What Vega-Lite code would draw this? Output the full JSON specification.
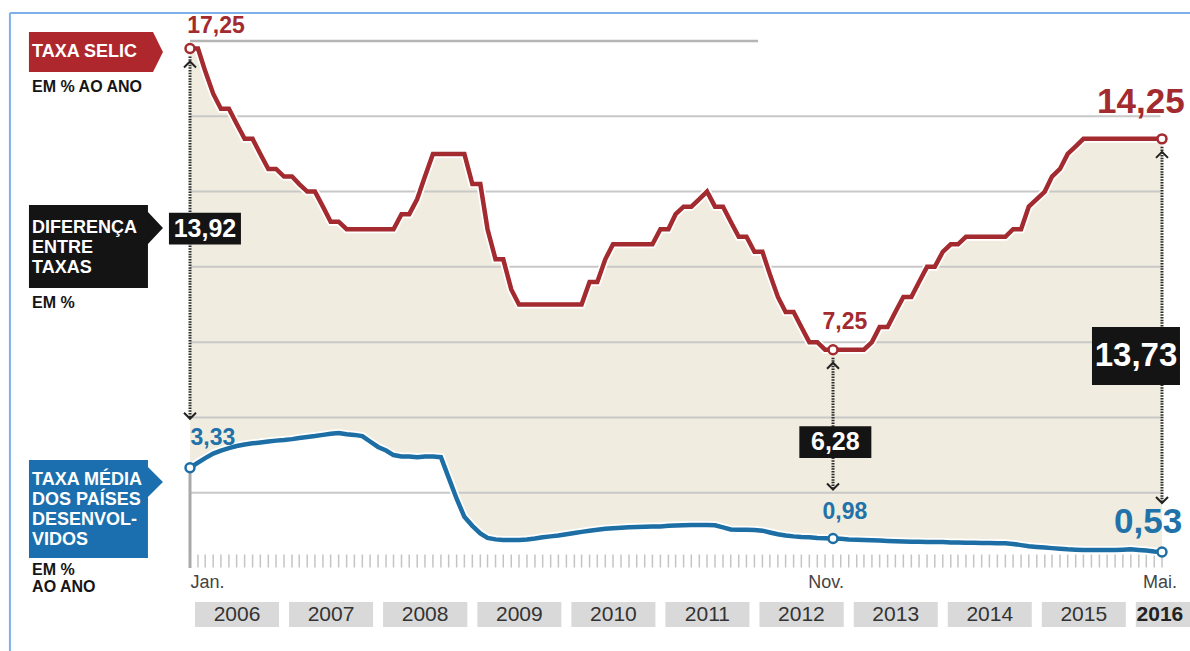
{
"$schema":"https://vega.github.io/schema/vega-lite/v6.json",
"width":972,"height":527,"autosize":"none",
"padding":{"left":190,"top":41,"right":28,"bottom":83},
"background":"white",
"config":{"view":{"stroke":null},"font":"Liberation Sans"},
"datasets":{
"series":[
{"date":"2006-01-01","selic":17.25,"dev":3.33},{"date":"2006-02-01","selic":17.25,"dev":3.5},{"date":"2006-03-01","selic":16.5,"dev":3.65},{"date":"2006-04-01","selic":15.75,"dev":3.8},{"date":"2006-05-01","selic":15.25,"dev":3.9},{"date":"2006-06-01","selic":15.25,"dev":3.98},{"date":"2006-07-01","selic":14.75,"dev":4.05},{"date":"2006-08-01","selic":14.25,"dev":4.1},{"date":"2006-09-01","selic":14.25,"dev":4.14},{"date":"2006-10-01","selic":13.75,"dev":4.17},{"date":"2006-11-01","selic":13.25,"dev":4.2},{"date":"2006-12-01","selic":13.25,"dev":4.23},
{"date":"2007-01-01","selic":13.0,"dev":4.25},{"date":"2007-02-01","selic":13.0,"dev":4.28},{"date":"2007-03-01","selic":12.75,"dev":4.32},{"date":"2007-04-01","selic":12.5,"dev":4.35},{"date":"2007-05-01","selic":12.5,"dev":4.38},{"date":"2007-06-01","selic":12.0,"dev":4.42},{"date":"2007-07-01","selic":11.5,"dev":4.46},{"date":"2007-08-01","selic":11.5,"dev":4.48},{"date":"2007-09-01","selic":11.25,"dev":4.44},{"date":"2007-10-01","selic":11.25,"dev":4.42},{"date":"2007-11-01","selic":11.25,"dev":4.38},{"date":"2007-12-01","selic":11.25,"dev":4.2},
{"date":"2008-01-01","selic":11.25,"dev":4.02},{"date":"2008-02-01","selic":11.25,"dev":3.9},{"date":"2008-03-01","selic":11.25,"dev":3.75},{"date":"2008-04-01","selic":11.75,"dev":3.7},{"date":"2008-05-01","selic":11.75,"dev":3.7},{"date":"2008-06-01","selic":12.25,"dev":3.68},{"date":"2008-07-01","selic":13.0,"dev":3.7},{"date":"2008-08-01","selic":13.75,"dev":3.7},{"date":"2008-09-01","selic":13.75,"dev":3.68},{"date":"2008-10-01","selic":13.75,"dev":3.0},{"date":"2008-11-01","selic":13.75,"dev":2.3},{"date":"2008-12-01","selic":13.75,"dev":1.7},
{"date":"2009-01-01","selic":12.75,"dev":1.4},{"date":"2009-02-01","selic":12.75,"dev":1.15},{"date":"2009-03-01","selic":11.25,"dev":1.0},{"date":"2009-04-01","selic":10.25,"dev":0.95},{"date":"2009-05-01","selic":10.25,"dev":0.93},{"date":"2009-06-01","selic":9.25,"dev":0.93},{"date":"2009-07-01","selic":8.75,"dev":0.93},{"date":"2009-08-01","selic":8.75,"dev":0.95},{"date":"2009-09-01","selic":8.75,"dev":0.98},{"date":"2009-10-01","selic":8.75,"dev":1.02},{"date":"2009-11-01","selic":8.75,"dev":1.05},{"date":"2009-12-01","selic":8.75,"dev":1.08},
{"date":"2010-01-01","selic":8.75,"dev":1.12},{"date":"2010-02-01","selic":8.75,"dev":1.16},{"date":"2010-03-01","selic":8.75,"dev":1.2},{"date":"2010-04-01","selic":9.5,"dev":1.24},{"date":"2010-05-01","selic":9.5,"dev":1.27},{"date":"2010-06-01","selic":10.25,"dev":1.3},{"date":"2010-07-01","selic":10.75,"dev":1.32},{"date":"2010-08-01","selic":10.75,"dev":1.34},{"date":"2010-09-01","selic":10.75,"dev":1.35},{"date":"2010-10-01","selic":10.75,"dev":1.36},{"date":"2010-11-01","selic":10.75,"dev":1.37},{"date":"2010-12-01","selic":10.75,"dev":1.38},
{"date":"2011-01-01","selic":11.25,"dev":1.38},{"date":"2011-02-01","selic":11.25,"dev":1.4},{"date":"2011-03-01","selic":11.75,"dev":1.41},{"date":"2011-04-01","selic":12.0,"dev":1.42},{"date":"2011-05-01","selic":12.0,"dev":1.43},{"date":"2011-06-01","selic":12.25,"dev":1.43},{"date":"2011-07-01","selic":12.5,"dev":1.43},{"date":"2011-08-01","selic":12.0,"dev":1.42},{"date":"2011-09-01","selic":12.0,"dev":1.35},{"date":"2011-10-01","selic":11.5,"dev":1.28},{"date":"2011-11-01","selic":11.0,"dev":1.27},{"date":"2011-12-01","selic":11.0,"dev":1.27},
{"date":"2012-01-01","selic":10.5,"dev":1.26},{"date":"2012-02-01","selic":10.5,"dev":1.24},{"date":"2012-03-01","selic":9.75,"dev":1.18},{"date":"2012-04-01","selic":9.0,"dev":1.12},{"date":"2012-05-01","selic":8.5,"dev":1.08},{"date":"2012-06-01","selic":8.5,"dev":1.05},{"date":"2012-07-01","selic":8.0,"dev":1.03},{"date":"2012-08-01","selic":7.5,"dev":1.02},{"date":"2012-09-01","selic":7.5,"dev":1.0},{"date":"2012-10-01","selic":7.25,"dev":0.99},{"date":"2012-11-01","selic":7.25,"dev":0.98},{"date":"2012-12-01","selic":7.25,"dev":0.97},
{"date":"2013-01-01","selic":7.25,"dev":0.95},{"date":"2013-02-01","selic":7.25,"dev":0.94},{"date":"2013-03-01","selic":7.25,"dev":0.93},{"date":"2013-04-01","selic":7.5,"dev":0.92},{"date":"2013-05-01","selic":8.0,"dev":0.91},{"date":"2013-06-01","selic":8.0,"dev":0.9},{"date":"2013-07-01","selic":8.5,"dev":0.89},{"date":"2013-08-01","selic":9.0,"dev":0.88},{"date":"2013-09-01","selic":9.0,"dev":0.87},{"date":"2013-10-01","selic":9.5,"dev":0.87},{"date":"2013-11-01","selic":10.0,"dev":0.86},{"date":"2013-12-01","selic":10.0,"dev":0.86},
{"date":"2014-01-01","selic":10.5,"dev":0.86},{"date":"2014-02-01","selic":10.75,"dev":0.85},{"date":"2014-03-01","selic":10.75,"dev":0.85},{"date":"2014-04-01","selic":11.0,"dev":0.84},{"date":"2014-05-01","selic":11.0,"dev":0.84},{"date":"2014-06-01","selic":11.0,"dev":0.83},{"date":"2014-07-01","selic":11.0,"dev":0.83},{"date":"2014-08-01","selic":11.0,"dev":0.82},{"date":"2014-09-01","selic":11.0,"dev":0.82},{"date":"2014-10-01","selic":11.25,"dev":0.8},{"date":"2014-11-01","selic":11.25,"dev":0.76},{"date":"2014-12-01","selic":12.0,"dev":0.72},
{"date":"2015-01-01","selic":12.25,"dev":0.7},{"date":"2015-02-01","selic":12.5,"dev":0.68},{"date":"2015-03-01","selic":13.0,"dev":0.66},{"date":"2015-04-01","selic":13.25,"dev":0.64},{"date":"2015-05-01","selic":13.75,"dev":0.62},{"date":"2015-06-01","selic":14.0,"dev":0.61},{"date":"2015-07-01","selic":14.25,"dev":0.6},{"date":"2015-08-01","selic":14.25,"dev":0.6},{"date":"2015-09-01","selic":14.25,"dev":0.6},{"date":"2015-10-01","selic":14.25,"dev":0.6},{"date":"2015-11-01","selic":14.25,"dev":0.6},{"date":"2015-12-01","selic":14.25,"dev":0.61},
{"date":"2016-01-01","selic":14.25,"dev":0.62},{"date":"2016-02-01","selic":14.25,"dev":0.6},{"date":"2016-03-01","selic":14.25,"dev":0.58},{"date":"2016-04-01","selic":14.25,"dev":0.55},{"date":"2016-05-01","selic":14.25,"dev":0.53}
],
"points":[{"date":"2006-01-01","selic":17.25,"dev":3.33},{"date":"2012-11-01","selic":7.25,"dev":0.98},{"date":"2016-05-01","selic":14.25,"dev":0.53}],
"years":[{"year":"2006","date":"2006-01-01","end":"2007-01-01"},{"year":"2007","date":"2007-01-01","end":"2008-01-01"},{"year":"2008","date":"2008-01-01","end":"2009-01-01"},{"year":"2009","date":"2009-01-01","end":"2010-01-01"},{"year":"2010","date":"2010-01-01","end":"2011-01-01"},{"year":"2011","date":"2011-01-01","end":"2012-01-01"},{"year":"2012","date":"2012-01-01","end":"2013-01-01"},{"year":"2013","date":"2013-01-01","end":"2014-01-01"},{"year":"2014","date":"2014-01-01","end":"2015-01-01"},{"year":"2015","date":"2015-01-01","end":"2016-01-01"},{"year":"2016","date":"2016-01-01","end":"2017-01-01"}],
"grid":[{"g":2.5},{"g":5},{"g":7.5},{"g":10},{"g":12.5},{"g":15}],
"labels":[
{"kind":"boxRed","date":"2005-01-01","y":17.135,"text":""},
{"kind":"boxBlack","date":"2005-01-01","y":10.69,"text":""},
{"kind":"boxBlue","date":"2005-01-01","y":1.96,"text":""},
{"kind":"leftWhite","date":"2004-04-28","y":17.135,"text":"TAXA SELIC"},
{"kind":"leftWhite","date":"2004-04-28","y":11.29,"text":"DIFERENÇA|ENTRE|TAXAS"},
{"kind":"leftWhite","date":"2004-04-28","y":2.92,"text":"TAXA MÉDIA|DOS PAÍSES|DESENVOL-|VIDOS"},
{"kind":"leftBlack","date":"2004-04-28","y":15.97,"text":"EM % AO ANO"},
{"kind":"leftBlack","date":"2004-04-28","y":8.8,"text":"EM %"},
{"kind":"leftBlack","date":"2004-04-28","y":-0.07,"text":"EM %|AO ANO"},
{"kind":"valBox","date":"2006-02-28","y":11.27,"text":"13,92"},
{"kind":"valBox","date":"2012-11-10","y":4.18,"text":"6,28"},
{"kind":"valBoxBig","date":"2016-01-21","y":7.04,"text":"13,73"},
{"kind":"redSmall","date":"2006-04-12","y":18.0,"text":"17,25"},
{"kind":"redSmall","date":"2012-12-17","y":8.17,"text":"7,25"},
{"kind":"redBig","date":"2016-02-09","y":15.47,"text":"14,25"},
{"kind":"blueSmall","date":"2006-03-31","y":4.32,"text":"3,33"},
{"kind":"blueSmall","date":"2012-12-17","y":1.86,"text":"0,98"},
{"kind":"blueBig","date":"2016-03-08","y":1.53,"text":"0,53"},
{"kind":"axisLab","date":"2006-03-10","y":-0.5,"text":"Jan."},
{"kind":"axisLab","date":"2012-10-05","y":-0.5,"text":"Nov."},
{"kind":"axisLab","date":"2016-04-23","y":-0.5,"text":"Mai."},
{"kind":"year2016","date":"2016-04-23","y":-1.56,"text":"2016"}
]
},
"layer":[
{"data":{"values":[{}]},"mark":{"type":"rule","color":"#7fb0ea","strokeWidth":2},
 "encoding":{"x":{"datum":{"year":2004,"month":2,"date":2,"utc":true},"type":"temporal","scale":{"domain":[{"year":2006,"month":1,"date":1,"utc":true},{"year":2016,"month":5,"date":1,"utc":true}]},"axis":null},
 "x2":{"datum":{"year":2017,"month":6,"date":1,"utc":true}},
 "y":{"datum":18.43,"type":"quantitative","scale":{"domain":[0,17.5]},"axis":null}}},
{"data":{"values":[{}]},"mark":{"type":"rule","color":"#7fb0ea","strokeWidth":2},
 "encoding":{"x":{"datum":{"year":2004,"month":2,"date":2,"utc":true},"type":"temporal","scale":{"domain":[{"year":2006,"month":1,"date":1,"utc":true},{"year":2016,"month":5,"date":1,"utc":true}]},"axis":null},
 "y":{"datum":18.43,"type":"quantitative","scale":{"domain":[0,17.5]},"axis":null},"y2":{"datum":-3}}},
{"data":{"name":"years"},"mark":{"type":"rect","color":"#d9d9d9","xOffset":5,"x2Offset":-5},
 "encoding":{"x":{"field":"date","type":"temporal","scale":{"domain":[{"year":2006,"month":1,"date":1,"utc":true},{"year":2016,"month":5,"date":1,"utc":true}]},"axis":null},"x2":{"field":"end"},
 "y":{"datum":-1.13,"type":"quantitative","scale":{"domain":[0,17.5]},"axis":null},"y2":{"datum":-1.96}}},
{"data":{"name":"years"},"transform":[{"filter":"datum.year != '2016'"}],"mark":{"type":"text","dx":47,"fontSize":21,"color":"#333","align":"center","baseline":"middle"},
 "encoding":{"x":{"field":"date","type":"temporal","scale":{"domain":[{"year":2006,"month":1,"date":1,"utc":true},{"year":2016,"month":5,"date":1,"utc":true}]},"axis":null},
 "y":{"datum":-1.56,"type":"quantitative","scale":{"domain":[0,17.5]},"axis":null},"text":{"field":"year"}}},
{"data":{"name":"series"},"mark":{"type":"area","color":"#F0ECDF"},
 "encoding":{"x":{"field":"date","type":"temporal","scale":{"domain":[{"year":2006,"month":1,"date":1,"utc":true},{"year":2016,"month":5,"date":1,"utc":true}]},"axis":null},
 "y":{"field":"selic","type":"quantitative","scale":{"domain":[0,17.5]},"axis":null},"y2":{"field":"dev"}}},
{"data":{"name":"grid"},"mark":{"type":"rule","color":"#c8c8c8","strokeWidth":2},
 "encoding":{"x":{"datum":{"year":2006,"month":1,"date":1,"utc":true},"type":"temporal","scale":{"domain":[{"year":2006,"month":1,"date":1,"utc":true},{"year":2016,"month":5,"date":1,"utc":true}]},"axis":null},
 "x2":{"datum":{"year":2016,"month":4,"date":25,"utc":true}},
 "y":{"field":"g","type":"quantitative","scale":{"domain":[0,17.5]},"axis":null}}},
{"data":{"values":[{}]},"mark":{"type":"rule","color":"#b5b5b5","strokeWidth":2.5},
 "encoding":{"x":{"datum":{"year":2006,"month":1,"date":1,"utc":true},"type":"temporal","scale":{"domain":[{"year":2006,"month":1,"date":1,"utc":true},{"year":2016,"month":5,"date":1,"utc":true}]},"axis":null},
 "x2":{"datum":{"year":2012,"month":1,"date":15,"utc":true}},
 "y":{"datum":17.5,"type":"quantitative","scale":{"domain":[0,17.5]},"axis":null}}},
{"data":{"values":[{}]},"mark":{"type":"rule","color":"#a8a8a8","strokeWidth":3},
 "encoding":{"x":{"datum":{"year":2006,"month":1,"date":1,"utc":true},"type":"temporal","scale":{"domain":[{"year":2006,"month":1,"date":1,"utc":true},{"year":2016,"month":5,"date":1,"utc":true}]},"axis":null},
 "y":{"datum":0,"type":"quantitative","scale":{"domain":[0,17.5]},"axis":null},"y2":{"datum":3.33}}},
{"data":{"name":"series"},"mark":{"type":"tick","orient":"vertical","size":13,"thickness":1.5,"color":"#ababab","yOffset":-7},
 "encoding":{"x":{"field":"date","type":"temporal","scale":{"domain":[{"year":2006,"month":1,"date":1,"utc":true},{"year":2016,"month":5,"date":1,"utc":true}]},
  "axis":{"values":[{"year":2007,"month":1,"date":1,"utc":true},{"year":2008,"month":1,"date":1,"utc":true},{"year":2009,"month":1,"date":1,"utc":true},{"year":2010,"month":1,"date":1,"utc":true},{"year":2011,"month":1,"date":1,"utc":true},{"year":2012,"month":1,"date":1,"utc":true},{"year":2013,"month":1,"date":1,"utc":true},{"year":2014,"month":1,"date":1,"utc":true},{"year":2015,"month":1,"date":1,"utc":true},{"year":2016,"month":1,"date":1,"utc":true}],
  "labels":false,"ticks":true,"tickSize":60,"tickColor":"#999999","tickWidth":1.5,"domain":true,"domainColor":"#b5b5b5","domainWidth":2,"grid":false,"title":null}},
 "y":{"datum":0,"type":"quantitative","scale":{"domain":[0,17.5]},"axis":null}}},
{"data":{"name":"series"},"mark":{"type":"line","color":"white","strokeWidth":8},
 "encoding":{"x":{"field":"date","type":"temporal","scale":{"domain":[{"year":2006,"month":1,"date":1,"utc":true},{"year":2016,"month":5,"date":1,"utc":true}]},"axis":null},
 "y":{"field":"selic","type":"quantitative","scale":{"domain":[0,17.5]},"axis":null}}},
{"data":{"name":"series"},"mark":{"type":"line","color":"white","strokeWidth":8},
 "encoding":{"x":{"field":"date","type":"temporal","scale":{"domain":[{"year":2006,"month":1,"date":1,"utc":true},{"year":2016,"month":5,"date":1,"utc":true}]},"axis":null},
 "y":{"field":"dev","type":"quantitative","scale":{"domain":[0,17.5]},"axis":null}}},
{"data":{"name":"series"},"mark":{"type":"line","color":"#A32A2E","strokeWidth":4.5},
 "encoding":{"x":{"field":"date","type":"temporal","scale":{"domain":[{"year":2006,"month":1,"date":1,"utc":true},{"year":2016,"month":5,"date":1,"utc":true}]},"axis":null},
 "y":{"field":"selic","type":"quantitative","scale":{"domain":[0,17.5]},"axis":null}}},
{"data":{"name":"series"},"mark":{"type":"line","color":"#1C6EA4","strokeWidth":4.5},
 "encoding":{"x":{"field":"date","type":"temporal","scale":{"domain":[{"year":2006,"month":1,"date":1,"utc":true},{"year":2016,"month":5,"date":1,"utc":true}]},"axis":null},
 "y":{"field":"dev","type":"quantitative","scale":{"domain":[0,17.5]},"axis":null}}},
{"data":{"name":"points"},"mark":{"type":"rule","color":"#2a2a2a","strokeWidth":3,"strokeDash":[1.5,1.2],"yOffset":8,"y2Offset":-50},
 "encoding":{"x":{"field":"date","type":"temporal","scale":{"domain":[{"year":2006,"month":1,"date":1,"utc":true},{"year":2016,"month":5,"date":1,"utc":true}]},"axis":null},
 "y":{"field":"selic","type":"quantitative","scale":{"domain":[0,17.5]},"axis":null},"y2":{"field":"dev"}}},
{"data":{"name":"points"},"mark":{"type":"point","shape":"M-1,0.5L0,-0.5L1,0.5","size":144,"filled":false,"color":"#222","strokeWidth":2,"opacity":1,"yOffset":16},
 "encoding":{"x":{"field":"date","type":"temporal","scale":{"domain":[{"year":2006,"month":1,"date":1,"utc":true},{"year":2016,"month":5,"date":1,"utc":true}]},"axis":null},
 "y":{"field":"selic","type":"quantitative","scale":{"domain":[0,17.5]},"axis":null}}},
{"data":{"name":"points"},"mark":{"type":"point","shape":"M-1,-0.5L0,0.5L1,-0.5","size":144,"filled":false,"color":"#222","strokeWidth":2,"opacity":1,"yOffset":-52},
 "encoding":{"x":{"field":"date","type":"temporal","scale":{"domain":[{"year":2006,"month":1,"date":1,"utc":true},{"year":2016,"month":5,"date":1,"utc":true}]},"axis":null},
 "y":{"field":"dev","type":"quantitative","scale":{"domain":[0,17.5]},"axis":null}}},
{"data":{"name":"points"},"mark":{"type":"point","shape":"circle","size":80,"filled":true,"fill":"white","stroke":"#A32A2E","strokeWidth":2.5,"opacity":1},
 "encoding":{"x":{"field":"date","type":"temporal","scale":{"domain":[{"year":2006,"month":1,"date":1,"utc":true},{"year":2016,"month":5,"date":1,"utc":true}]},"axis":null},
 "y":{"field":"selic","type":"quantitative","scale":{"domain":[0,17.5]},"axis":null}}},
{"data":{"name":"points"},"mark":{"type":"point","shape":"circle","size":80,"filled":true,"fill":"white","stroke":"#1C6EA4","strokeWidth":2.5,"opacity":1},
 "encoding":{"x":{"field":"date","type":"temporal","scale":{"domain":[{"year":2006,"month":1,"date":1,"utc":true},{"year":2016,"month":5,"date":1,"utc":true}]},"axis":null},
 "y":{"field":"dev","type":"quantitative","scale":{"domain":[0,17.5]},"axis":null}}},
{"data":{"name":"labels"},"transform":[{"filter":"datum.kind == 'boxRed'"}],"mark":{"type":"point","shape":"M-1,-0.2985L0.851,-0.2985L1,0L0.851,0.2985L-1,0.2985Z","size":17956,"filled":true,"color":"#AE272C","opacity":1},
 "encoding":{"x":{"field":"date","type":"temporal","scale":{"domain":[{"year":2006,"month":1,"date":1,"utc":true},{"year":2016,"month":5,"date":1,"utc":true}]},"axis":null},
 "y":{"field":"y","type":"quantitative","scale":{"domain":[0,17.5]},"axis":null}}},
{"data":{"name":"labels"},"transform":[{"filter":"datum.kind == 'boxBlack'"}],"mark":{"type":"point","shape":"M-1,-0.612L0.776,-0.612L0.776,-0.508L1,-0.269L0.776,-0.03L0.776,0.627L-1,0.627Z","size":17956,"filled":true,"color":"#141414","opacity":1},
 "encoding":{"x":{"field":"date","type":"temporal","scale":{"domain":[{"year":2006,"month":1,"date":1,"utc":true},{"year":2016,"month":5,"date":1,"utc":true}]},"axis":null},
 "y":{"field":"y","type":"quantitative","scale":{"domain":[0,17.5]},"axis":null}}},
{"data":{"name":"labels"},"transform":[{"filter":"datum.kind == 'boxBlue'"}],"mark":{"type":"point","shape":"M-1,-0.731L0.776,-0.731L0.776,-0.627L1,-0.403L0.776,-0.179L0.776,0.731L-1,0.731Z","size":17956,"filled":true,"color":"#1B6FAE","opacity":1},
 "encoding":{"x":{"field":"date","type":"temporal","scale":{"domain":[{"year":2006,"month":1,"date":1,"utc":true},{"year":2016,"month":5,"date":1,"utc":true}]},"axis":null},
 "y":{"field":"y","type":"quantitative","scale":{"domain":[0,17.5]},"axis":null}}},
{"data":{"name":"labels"},"transform":[{"filter":"datum.kind == 'valBox'"}],"mark":{"type":"point","shape":"M-1,-0.444L1,-0.444L1,0.444L-1,0.444Z","size":5184,"filled":true,"color":"#141414","opacity":1},
 "encoding":{"x":{"field":"date","type":"temporal","scale":{"domain":[{"year":2006,"month":1,"date":1,"utc":true},{"year":2016,"month":5,"date":1,"utc":true}]},"axis":null},
 "y":{"field":"y","type":"quantitative","scale":{"domain":[0,17.5]},"axis":null}}},
{"data":{"name":"labels"},"transform":[{"filter":"datum.kind == 'valBoxBig'"}],"mark":{"type":"point","shape":"M-1,-0.659L1,-0.659L1,0.659L-1,0.659Z","size":7744,"filled":true,"color":"#141414","opacity":1},
 "encoding":{"x":{"field":"date","type":"temporal","scale":{"domain":[{"year":2006,"month":1,"date":1,"utc":true},{"year":2016,"month":5,"date":1,"utc":true}]},"axis":null},
 "y":{"field":"y","type":"quantitative","scale":{"domain":[0,17.5]},"axis":null}}},
{"data":{"name":"labels"},"transform":[{"filter":"datum.kind == 'leftWhite'"}],"mark":{"type":"text","align":"left","baseline":"middle","fontSize":18,"fontWeight":"bold","color":"white","lineBreak":"|","lineHeight":20},
 "encoding":{"x":{"field":"date","type":"temporal","scale":{"domain":[{"year":2006,"month":1,"date":1,"utc":true},{"year":2016,"month":5,"date":1,"utc":true}]},"axis":null},
 "y":{"field":"y","type":"quantitative","scale":{"domain":[0,17.5]},"axis":null},"text":{"field":"text"}}},
{"data":{"name":"labels"},"transform":[{"filter":"datum.kind == 'leftBlack'"}],"mark":{"type":"text","align":"left","baseline":"middle","fontSize":16,"fontWeight":"bold","color":"#151515","lineBreak":"|","lineHeight":17},
 "encoding":{"x":{"field":"date","type":"temporal","scale":{"domain":[{"year":2006,"month":1,"date":1,"utc":true},{"year":2016,"month":5,"date":1,"utc":true}]},"axis":null},
 "y":{"field":"y","type":"quantitative","scale":{"domain":[0,17.5]},"axis":null},"text":{"field":"text"}}},
{"data":{"name":"labels"},"transform":[{"filter":"datum.kind == 'valBox'"}],"mark":{"type":"text","align":"center","baseline":"middle","fontSize":25,"fontWeight":"bold","color":"white"},
 "encoding":{"x":{"field":"date","type":"temporal","scale":{"domain":[{"year":2006,"month":1,"date":1,"utc":true},{"year":2016,"month":5,"date":1,"utc":true}]},"axis":null},
 "y":{"field":"y","type":"quantitative","scale":{"domain":[0,17.5]},"axis":null},"text":{"field":"text"}}},
{"data":{"name":"labels"},"transform":[{"filter":"datum.kind == 'valBoxBig'"}],"mark":{"type":"text","align":"center","baseline":"middle","fontSize":33,"fontWeight":"bold","color":"white"},
 "encoding":{"x":{"field":"date","type":"temporal","scale":{"domain":[{"year":2006,"month":1,"date":1,"utc":true},{"year":2016,"month":5,"date":1,"utc":true}]},"axis":null},
 "y":{"field":"y","type":"quantitative","scale":{"domain":[0,17.5]},"axis":null},"text":{"field":"text"}}},
{"data":{"name":"labels"},"transform":[{"filter":"datum.kind == 'redSmall'"}],"mark":{"type":"text","align":"center","baseline":"middle","fontSize":23,"fontWeight":"bold","color":"#A32A2E"},
 "encoding":{"x":{"field":"date","type":"temporal","scale":{"domain":[{"year":2006,"month":1,"date":1,"utc":true},{"year":2016,"month":5,"date":1,"utc":true}]},"axis":null},
 "y":{"field":"y","type":"quantitative","scale":{"domain":[0,17.5]},"axis":null},"text":{"field":"text"}}},
{"data":{"name":"labels"},"transform":[{"filter":"datum.kind == 'redBig'"}],"mark":{"type":"text","align":"center","baseline":"middle","fontSize":35,"fontWeight":"bold","color":"#A32A2E"},
 "encoding":{"x":{"field":"date","type":"temporal","scale":{"domain":[{"year":2006,"month":1,"date":1,"utc":true},{"year":2016,"month":5,"date":1,"utc":true}]},"axis":null},
 "y":{"field":"y","type":"quantitative","scale":{"domain":[0,17.5]},"axis":null},"text":{"field":"text"}}},
{"data":{"name":"labels"},"transform":[{"filter":"datum.kind == 'blueSmall'"}],"mark":{"type":"text","align":"center","baseline":"middle","fontSize":23,"fontWeight":"bold","color":"#2272AA"},
 "encoding":{"x":{"field":"date","type":"temporal","scale":{"domain":[{"year":2006,"month":1,"date":1,"utc":true},{"year":2016,"month":5,"date":1,"utc":true}]},"axis":null},
 "y":{"field":"y","type":"quantitative","scale":{"domain":[0,17.5]},"axis":null},"text":{"field":"text"}}},
{"data":{"name":"labels"},"transform":[{"filter":"datum.kind == 'blueBig'"}],"mark":{"type":"text","align":"center","baseline":"middle","fontSize":35,"fontWeight":"bold","color":"#2272AA"},
 "encoding":{"x":{"field":"date","type":"temporal","scale":{"domain":[{"year":2006,"month":1,"date":1,"utc":true},{"year":2016,"month":5,"date":1,"utc":true}]},"axis":null},
 "y":{"field":"y","type":"quantitative","scale":{"domain":[0,17.5]},"axis":null},"text":{"field":"text"}}},
{"data":{"name":"labels"},"transform":[{"filter":"datum.kind == 'axisLab'"}],"mark":{"type":"text","align":"center","baseline":"middle","fontSize":18,"color":"#444"},
 "encoding":{"x":{"field":"date","type":"temporal","scale":{"domain":[{"year":2006,"month":1,"date":1,"utc":true},{"year":2016,"month":5,"date":1,"utc":true}]},"axis":null},
 "y":{"field":"y","type":"quantitative","scale":{"domain":[0,17.5]},"axis":null},"text":{"field":"text"}}},
{"data":{"name":"labels"},"transform":[{"filter":"datum.kind == 'year2016'"}],"mark":{"type":"text","align":"center","baseline":"middle","fontSize":21,"fontWeight":"bold","color":"#222"},
 "encoding":{"x":{"field":"date","type":"temporal","scale":{"domain":[{"year":2006,"month":1,"date":1,"utc":true},{"year":2016,"month":5,"date":1,"utc":true}]},"axis":null},
 "y":{"field":"y","type":"quantitative","scale":{"domain":[0,17.5]},"axis":null},"text":{"field":"text"}}}
]
}
